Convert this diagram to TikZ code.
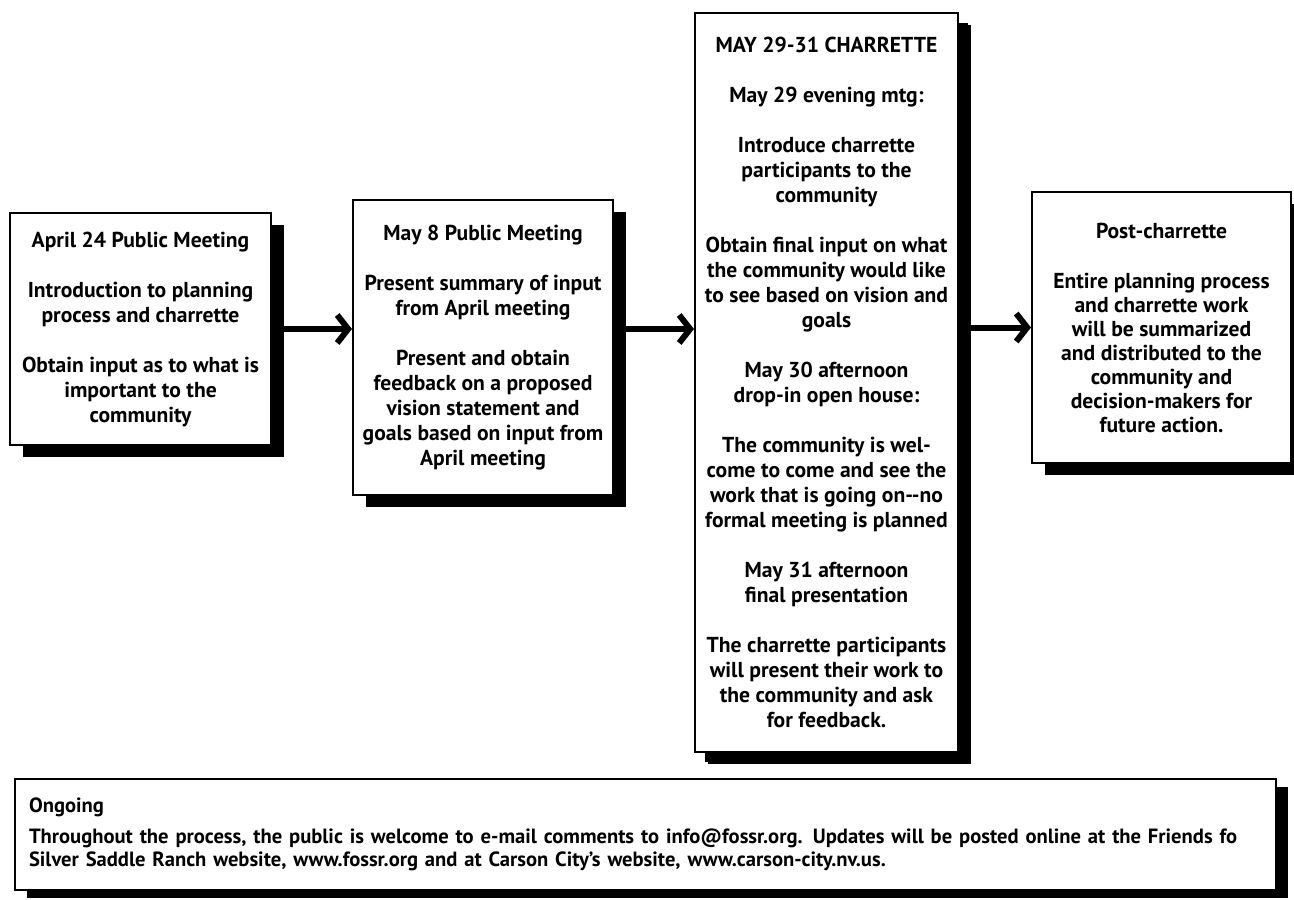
\documentclass[tikz,border=0pt]{standalone}
\usepackage{fontspec}
\setmainfont{PT Sans}
\usetikzlibrary{arrows.meta,shadows}

\tikzset{
  stepcard/.style={draw, line width=1pt, fill=white, align=center, inner sep=0pt,
    font=\bfseries\fontsize{10.8}{12.5}\selectfont,
    drop shadow={shadow xshift=6.5pt, shadow yshift=-6pt, fill=black, opacity=1}},
  notecard/.style={draw, line width=1pt, fill=white, align=left, inner xsep=7pt, inner ysep=0pt,
    font=\bfseries\fontsize{10.3}{11.5}\selectfont,
    drop shadow={shadow xshift=6pt, shadow yshift=-4pt, fill=black, opacity=1}},
  flowarrow/.style={line width=3pt, -{Straight Barb[length=5.5pt,width=14pt]}},
}

\begin{document}
\begin{tikzpicture}[x=0.5pt, y=-0.5pt]
  \useasboundingbox (0,0) rectangle (1294,899);

  % the four stages
  \node[stepcard, minimum width=130.5pt, minimum height=116pt] (april) at (140.5,329)
    {April 24 Public Meeting\\[12.5pt]
     Introduction to planning\\ process and charrette\\[12.5pt]
     Obtain input as to what is\\ important to the\\ community};
  \node[stepcard, minimum width=130pt, minimum height=147.5pt] (may8) at (483,347.5)
    {May 8 Public Meeting\\[12.5pt]
     Present summary of input\\ from April meeting\\[12.5pt]
     Present and obtain\\ feedback on a proposed\\ vision statement and\\
     goals based on input from\\ April meeting};
  \node[stepcard, minimum width=131.5pt, minimum height=369.5pt,
    drop shadow={shadow xshift=5pt, shadow yshift=-5pt, fill=black, opacity=1}] (charrette) at (826.5,382.5)
    {MAY 29-31 CHARRETTE\\[12.5pt]
     May 29 evening mtg:\\[12.5pt]
     Introduce charrette\\ participants to the\\ community\\[12.5pt]
     Obtain final input on what\\ the community would like\\ to see based on vision and\\ goals\\[12.5pt]
     May 30 afternoon\\ drop-in open house:\\[12.5pt]
     The community is wel-\\ come to come and see the\\ work that is going on{-}{-}no\\ formal meeting is planned\\[12.5pt]
     May 31 afternoon\\ final presentation\\[12.5pt]
     The charrette participants\\ will present their work to\\ the community and ask\\ for feedback.};
  \node[stepcard, minimum width=129.5pt, minimum height=135.5pt,
    font=\bfseries\fontsize{10.8}{12}\selectfont] (post) at (1161.5,327.5)
    {Post-charrette\\[13pt]
     Entire planning process\\ and charrette work\\ will be summarized\\
     and distributed to the\\ community and\\ decision-makers for\\ future action.};

  % ongoing note
  \node[notecard, text width=616.5pt, minimum height=55.5pt] (ongoing) at (645.5,834.5)
    {Ongoing\\[4pt]
     Throughout the process, the public is welcome to e-mail comments to info@fossr.org.  Updates will be posted online at the Friends fo\\
     Silver Saddle Ranch website, www.fossr.org and at Carson City's website, www.carson-city.nv.us.};

  % arrows between stages
  \draw[flowarrow] (april) -- (may8.west |- april);
  \draw[flowarrow] (may8.east |- april) -- (charrette.west |- april);
  \draw[flowarrow] (charrette.east |- post) -- (post.west);
\end{tikzpicture}
\end{document}
